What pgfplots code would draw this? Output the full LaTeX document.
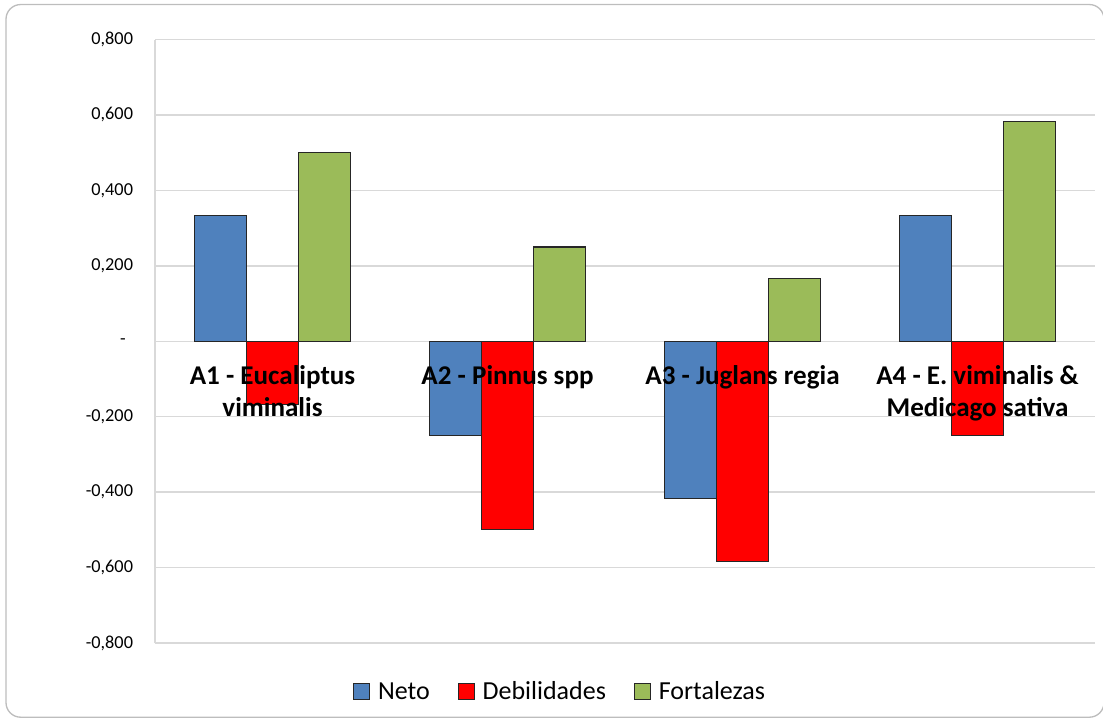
\documentclass[border=0pt]{standalone}
\usepackage{pgfplots}
\pgfplotsset{compat=1.18}
\usepackage{fontspec}
\setmainfont{Carlito}

\definecolor{neto}{HTML}{4F81BD}
\definecolor{debil}{HTML}{FF0000}
\definecolor{forta}{HTML}{9BBB59}
\definecolor{gridgray}{HTML}{D9D9D9}
\definecolor{framegray}{HTML}{BDBDBD}

\begin{document}
\begin{tikzpicture}
% page and outer frame
\useasboundingbox (0pt,0pt) rectangle (827.25pt,-538.5pt);
\draw[framegray, line width=1pt, rounded corners=11pt] (4.5pt,-3.4pt) rectangle (828pt,-537.9pt);
\begin{axis}[
  at={(116.25pt,-482.25pt)}, anchor=south west,
  scale only axis, width=705pt, height=452.6pt,
  ybar=0pt, bar width=39pt,
  xmin=-0.5, xmax=3.5, ymin=-0.8, ymax=0.8,
  axis x line=none, axis y line*=left,
  y axis line style={gridgray, line width=1pt},
  ymajorgrids, grid style={gridgray, line width=1pt},
  major tick length=0pt, ytick style={draw=none},
  ytick={-0.8,-0.6,-0.4,-0.2,0,0.2,0.4,0.6,0.8},
  yticklabels={{-0,800},{-0,600},{-0,400},{-0,200},{\makebox[9.6pt][l]{-}},{0,200},{0,400},{0,600},{0,800}},
  yticklabel style={font=\fontsize{13.7}{16}\selectfont, inner sep=0pt, anchor=east, xshift=-16.3pt},
  clip=false,
  every axis plot/.append style={draw=black!85, line width=0.8pt},
  legend columns=-1,
  legend style={draw=none, fill=none, at={(0.43,-0.081)}, anchor=center,
    font=\fontsize{19.5}{22}\selectfont,
    nodes={inner sep=0pt},
    /tikz/every odd column/.append style={column sep=6pt},
    /tikz/every even column/.append style={column sep=21pt}},
  legend image code/.code={\draw[#1, draw=black!85, line width=0.6pt] (0pt,-6pt) rectangle (12pt,6pt);},
]
\addplot[fill=neto] coordinates {(0,0.333) (1,-0.250) (2,-0.417) (3,0.333)};
\addplot[fill=debil] coordinates {(0,-0.167) (1,-0.500) (2,-0.583) (3,-0.250)};
\addplot[fill=forta] coordinates {(0,0.500) (1,0.250) (2,0.167) (3,0.583)};
\legend{Neto,Debilidades,Fortalezas}

% category labels set on the zero line (base = last line of each node)
\begin{scope}[every node/.style={font=\fontsize{20.3}{23.8}\selectfont\bfseries, align=center, anchor=base}]
\node[yshift=-56.4pt] at (axis cs:0,0) {A1 - Eucaliptus\\viminalis};
\node[yshift=-32.6pt] at (axis cs:1,0) {A2 - Pinnus spp};
\node[yshift=-32.6pt] at (axis cs:2,0) {A3 - Juglans regia};
\node[yshift=-56.4pt] at (axis cs:3,0) {A4 - E. viminalis \&\\Medicago sativa};
\end{scope}
\end{axis}
\end{tikzpicture}
\end{document}
